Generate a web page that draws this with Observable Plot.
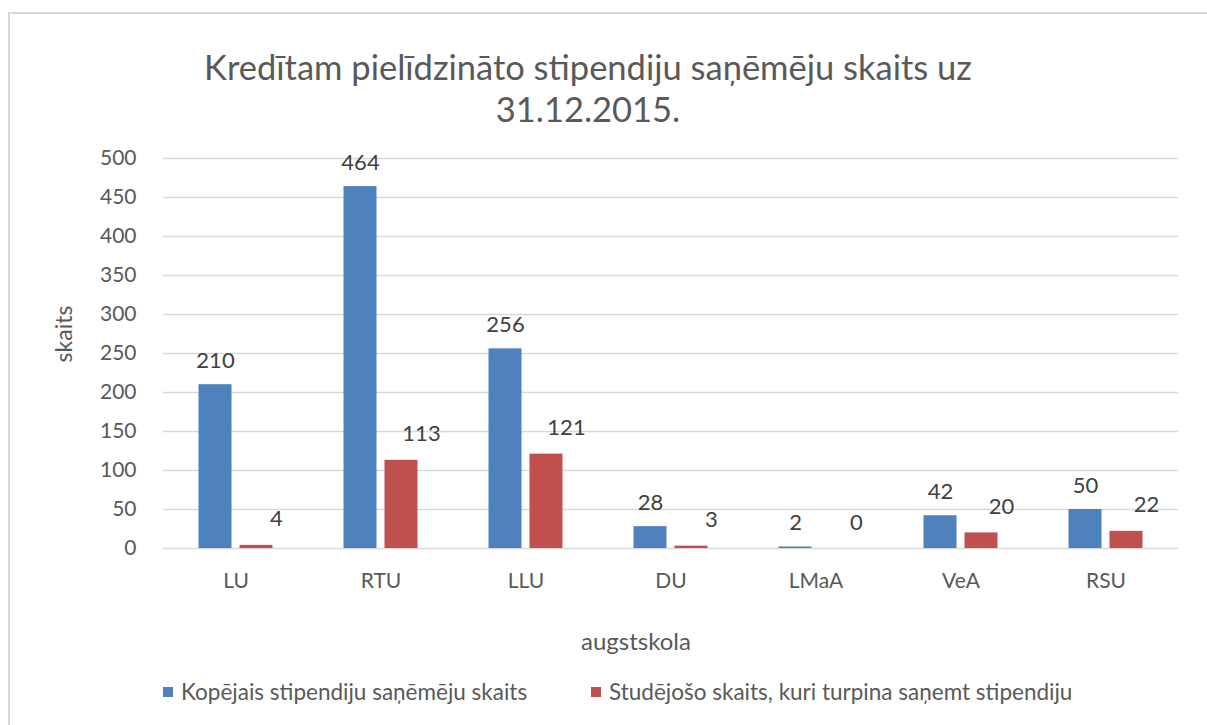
<!DOCTYPE html>
<html>
<head>
<meta charset="utf-8">
<script src="https://cdn.jsdelivr.net/npm/d3@7"></script>
<script src="https://cdn.jsdelivr.net/npm/@observablehq/plot@0.6"></script>
<style>
  body { margin: 0; background: #fff; font-family: Lato, sans-serif; }
  #wrap { position: relative; width: 1207px; height: 725px; overflow: hidden; background: #fff; }
  #frame { position: absolute; left: 8px; top: 12px; width: 1220px; height: 740px; border: 2px solid #d9d9d9; box-sizing: border-box; }
  #title { position: absolute; left: 88px; width: 1000px; top: 46px; text-align: center; font-size: 34.5px; line-height: 42px; color: #595959; }
  #chart { position: absolute; left: 0; top: 140px; }
  #ylab { position: absolute; left: 63px; top: 334px; transform: translate(-50%, -50%) rotate(-90deg); font-size: 23px; color: #595959; white-space: nowrap; }
  #xlab { position: absolute; left: 636px; top: 640px; transform: translate(-50%, -50%); font-size: 24px; color: #595959; white-space: nowrap; }
  .leg { position: absolute; top: 678px; font-size: 22.5px; color: #595959; white-space: nowrap; display: flex; align-items: center; }
  .sw { width: 10px; height: 10px; margin-right: 8px; display: inline-block; }
</style>
</head>
<body>
<div id="wrap">
  <div id="frame"></div>
  <div id="title">Kredītam pielīdzināto stipendiju saņēmēju skaits uz<br>31.12.2015.</div>
  <div id="chart"></div>
  <div id="ylab">skaits</div>
  <div id="xlab">augstskola</div>
  <div id="legend"></div>
</div>
<script>
const categories = ["LU", "RTU", "LLU", "DU", "LMaA", "VeA", "RSU"];
const seriesNames = ["Kopējais stipendiju saņēmēju skaits", "Studējošo skaits, kuri turpina saņemt stipendiju"];
const totalRecipients = [210, 464, 256, 28, 2, 42, 50];
const continuingRecipients = [4, 113, 121, 3, 0, 20, 22];
const yTicks = [0, 50, 100, 150, 200, 250, 300, 350, 400, 450, 500];
const seriesColors = ["#4f81bd", "#c0504d"];

const rows = [];
categories.forEach((c, i) => {
  rows.push({cat: c, series: seriesNames[0], value: totalRecipients[i]});
  rows.push({cat: c, series: seriesNames[1], value: continuingRecipients[i]});
});

const chart = Plot.plot({
  width: 1207,
  height: 460,
  marginTop: 18,
  marginBottom: 52,
  marginLeft: 162,
  marginRight: 29,
  style: { fontFamily: "Lato, sans-serif", fontSize: "21px", color: "#595959", background: "transparent" },
  facet: { data: rows, x: "cat" },
  fx: { domain: categories, padding: 0, axis: "bottom", label: null, tickSize: 0, tickPadding: 25 },
  x: { domain: seriesNames, paddingInner: 0.195, paddingOuter: 0.866, axis: null, round: false },
  y: { domain: [0, 500], ticks: yTicks, tickSize: 0, tickPadding: 27, label: null },
  color: { domain: seriesNames, range: seriesColors },
  marks: [
    Plot.ruleY(yTicks, { stroke: "#d9d9d9", strokeWidth: 1.5 }),
    Plot.barY(rows, { x: "series", y: "value", fill: "series" }),
    Plot.text(rows, { filter: d => d.series === seriesNames[0], x: "series", y: "value", text: d => String(d.value), dy: -24, fill: "#404040", fontSize: 22 }),
    Plot.text(rows, { filter: d => d.series === seriesNames[1], x: "series", y: "value", text: d => String(d.value), dy: -26, dx: 20, fill: "#404040", fontSize: 22 })
  ]
});
document.getElementById("chart").appendChild(chart);

const legendLefts = [163, 591];
const legend = document.getElementById("legend");
seriesNames.forEach((s, i) => {
  const item = document.createElement("div");
  item.className = "leg";
  item.style.left = legendLefts[i] + "px";
  const sw = document.createElement("span");
  sw.className = "sw";
  sw.style.background = seriesColors[i];
  const t = document.createElement("span");
  t.textContent = s;
  item.appendChild(sw);
  item.appendChild(t);
  legend.appendChild(item);
});
</script>
</body>
</html>
